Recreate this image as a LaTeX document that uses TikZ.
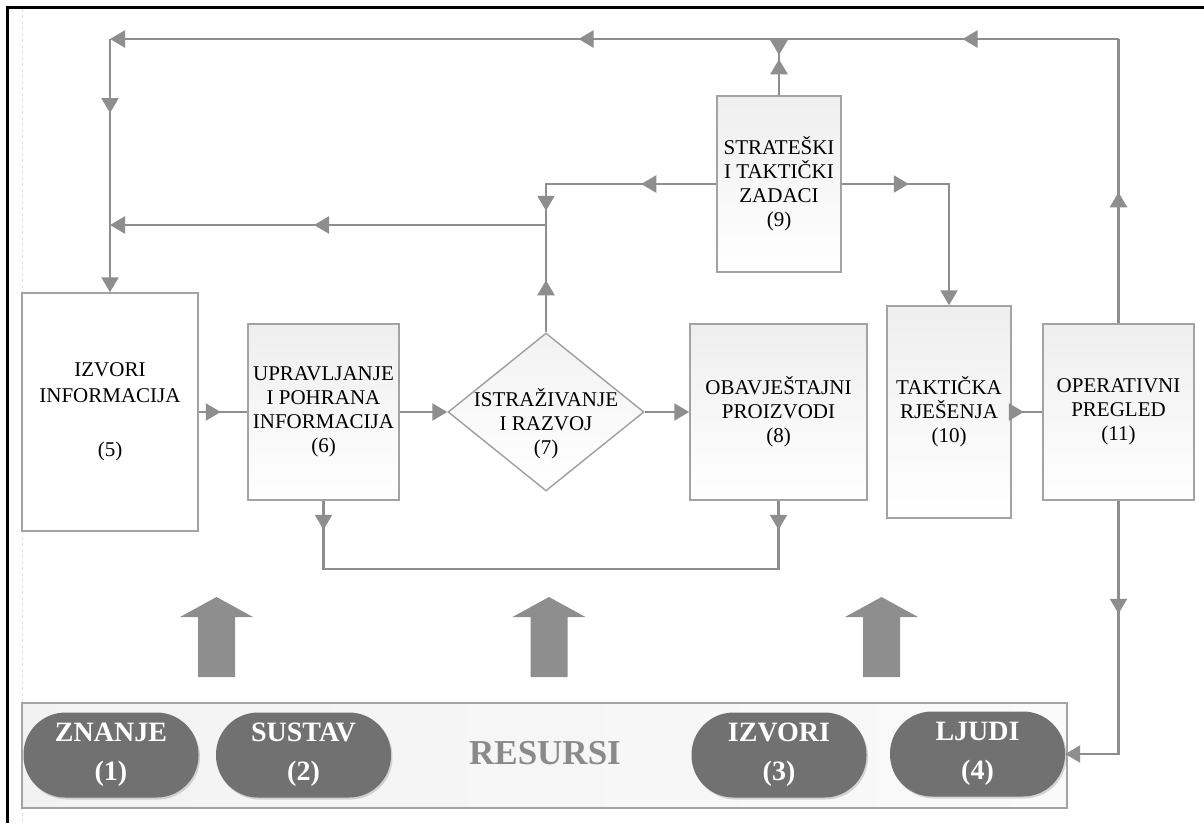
\documentclass[tikz,border=0pt]{standalone}
\usepackage{fontspec}
\setmainfont{Liberation Serif}
\usetikzlibrary{arrows.meta,shapes.geometric,decorations.markings,shadows}
\definecolor{lc}{HTML}{8E8E8E}
\definecolor{bc}{HTML}{A3A3A3}
\definecolor{pc}{HTML}{717171}
\definecolor{rc}{HTML}{8A8A8A}
\tikzset{
  >={Triangle[length=15pt,width=17pt]},
  conn/.style={color=lc, line width=2.4pt},
  marr/.style={postaction={decorate,decoration={markings,mark=at position #1 with {\arrow{>}}}}},
  boxtxt/.style={font=\fontsize{21}{24}\selectfont, align=center, text=black},
  plainbox/.style={boxtxt, rectangle, draw=bc, line width=1.5pt, fill=white, inner sep=0pt},
  shadebox/.style={boxtxt, rectangle, draw=bc, line width=1.5pt, top color=gray!13, bottom color=white, inner sep=0pt},
  pill/.style={rectangle, rounded corners=42pt, fill=pc, text=white, inner sep=0pt,
    minimum width=175pt, minimum height=85pt, align=center,
    font=\bfseries\fontsize{28}{39}\selectfont,
    drop shadow={opacity=0.3, shadow xshift=1.5pt, shadow yshift=-2pt}},
  rbar/.style={rectangle, draw=bc, line width=1.5pt, left color=gray!10, right color=gray!4, inner sep=0pt},
}
\begin{document}
\begin{tikzpicture}[x=1pt,y=-1pt]
\useasboundingbox (0,0) rectangle (1204,823);
\fill[white] (0,0) rectangle (1204,823);
% frame
\draw[gray!25, dashed, line width=1pt] (22,9) -- (22,823);
\draw[black, line width=3pt] (7,823) -- (7,7) -- (1204,7);

% boxes
\node[plainbox, minimum width=176pt, minimum height=238pt] (i5) at (110,412)
  {IZVORI\\[2pt]INFORMACIJA\\[30pt](5)};
\node[shadebox, minimum width=151pt, minimum height=176pt] (u6) at (323.5,412)
  {UPRAVLJANJE\\I POHRANA\\INFORMACIJA\\(6)};
\node[diamond, draw=bc, line width=1.5pt, top color=gray!10, bottom color=white,
  minimum width=196pt, minimum height=158pt, inner sep=0pt] (d7) at (546,412) {};
\node[boxtxt] (d7t) at (546,424) {ISTRAŽIVANJE\\I RAZVOJ\\(7)};
\node[shadebox, minimum width=177pt, minimum height=176pt] (o8) at (778.5,412)
  {OBAVJEŠTAJNI\\PROIZVODI\\(8)};
\node[shadebox, minimum width=124pt, minimum height=176pt] (s9) at (779,184)
  {STRATEŠKI\\I TAKTIČKI\\ZADACI\\(9)};
\node[shadebox, minimum width=124pt, minimum height=212pt] (t10) at (949,412)
  {TAKTIČKA\\RJEŠENJA\\(10)};
\node[shadebox, minimum width=151pt, minimum height=176pt] (o11) at (1118.5,412)
  {OPERATIVNI\\PREGLED\\(11)};

% resources
\node[rbar, minimum width=1045pt, minimum height=105pt] (res) at (544.5,755.5) {};
\node[font=\bfseries\fontsize{35}{35}\selectfont, text=rc] (rs) at (545,753) {RESURSI};
\node[pill] (zn) at (111,755) {ZNANJE\\(1)};
\node[pill] (su) at (303.5,755) {SUSTAV\\(2)};
\node[pill] (iz) at (779,755) {IZVORI\\(3)};
\node[pill] (lj) at (977.5,754) {LJUDI\\(4)};

% big arrows
\foreach \cx in {216.5,549,881.5}{
  \fill[lc] (\cx-18.5,677) -- (\cx-18.5,617) -- (\cx-36.5,617) -- (\cx,597)
    -- (\cx+36.5,617) -- (\cx+18.5,617) -- (\cx+18.5,677) -- cycle;
}

% coordinates
\coordinate (ctr) at (1118.5,39);
\coordinate (ctl) at (110,39);
\coordinate (ct9) at (779,39);
\coordinate (cj) at (546,225);
\coordinate (cl2) at (110,225);
\coordinate (cb) at (550,569);

% connectors
\draw[conn, marr=131pt] (o11.north) -- (ctr);
\draw[conn, ->, marr=156pt, marr=540pt] (ctr) -- (ctl);
\draw[conn, ->, marr=74pt] (ctl) -- (i5.north);
\draw[conn, marr=36pt] (s9.north) -- (ct9);
\draw[conn, marr=16pt] (ct9) -- (s9.north);
\draw[conn, marr=75pt, marr=197pt] (s9.west) -| (cj);
\draw[conn, marr=52pt] (d7.north) -- (cj);
\draw[conn, ->, marr=232pt] (cj) -- (cl2);
\draw[conn, ->, marr=67pt] (s9.east) -| (t10.north);
\draw[conn, marr=22pt] (i5.east) -- (u6.west);
\draw[conn, ->] (u6.east) -- (d7.west);
\draw[conn, ->] (d7.east) -- (o8.west);
\draw[conn, marr=12pt] (t10.east) -- (o11.west);
\draw[conn, marr=29pt] (u6.south) |- (cb);
\draw[conn, marr=29pt] (o8.south) |- (cb);
\draw[conn, ->, marr=113pt] (o11.south) |- (lj.east);
\end{tikzpicture}
\end{document}
